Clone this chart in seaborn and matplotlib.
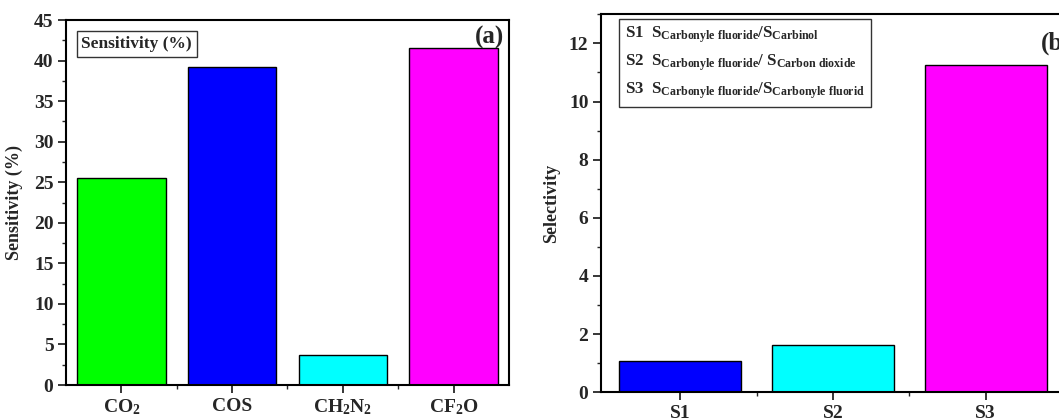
import matplotlib
matplotlib.use("Agg")
import matplotlib.pyplot as plt
import seaborn as sns
import pandas as pd
from matplotlib.ticker import MultipleLocator, FixedLocator

# panel (a) data
gases = ["CO$_2$", "COS", "CH$_2$N$_2$", "CF$_2$O"]
sensitivity = [25.5, 39.2, 3.7, 41.5]
gas_colors = ["#00FF00", "#0000FF", "#00FFFF", "#FF00FF"]

# panel (b) data
pairs = ["S1", "S2", "S3"]
selectivity = [1.07, 1.62, 11.26]
pair_colors = ["#0000FF", "#00FFFF", "#FF00FF"]

sns.set_style("ticks")
plt.rcParams["font.family"] = ["Liberation Serif", "DejaVu Serif"]
plt.rcParams["font.weight"] = "bold"
plt.rcParams["mathtext.fontset"] = "custom"
plt.rcParams["mathtext.rm"] = "Liberation Serif:bold"
plt.rcParams["mathtext.it"] = "Liberation Serif:bold"
plt.rcParams["mathtext.bf"] = "Liberation Serif:bold"

fig = plt.figure(figsize=(10.59, 4.19), dpi=100)
ax1 = fig.add_axes([0.0623, 0.0811, 0.4183, 0.8711])
ax2 = fig.add_axes([0.5675, 0.0637, 0.4353, 0.9022])

df_a = pd.DataFrame({"gas": gases, "sensitivity": sensitivity})
sns.barplot(data=df_a, x="gas", y="sensitivity", hue="gas", palette=gas_colors,
            saturation=1, edgecolor="black", linewidth=1.0, width=0.8,
            legend=False, ax=ax1)
ax1.set_xlim(-0.5, 3.5)
ax1.set_ylim(0, 45)
ax1.yaxis.set_major_locator(MultipleLocator(5))
ax1.yaxis.set_minor_locator(MultipleLocator(2.5))
ax1.xaxis.set_minor_locator(FixedLocator([0.5, 1.5, 2.5]))
ax1.set_xlabel("")
ax1.set_ylabel("Sensitivity (%)", fontsize=13, fontweight="bold", labelpad=8)
ax1.text(0.035, 0.935, "Sensitivity (%)", transform=ax1.transAxes, fontsize=12.5,
         fontweight="bold", va="center", ha="left",
         bbox=dict(boxstyle="square,pad=0.28", fc="white", ec="#333333", lw=1))
ax1.text(0.99, 0.985, "(a)", transform=ax1.transAxes, fontsize=18,
         fontweight="bold", va="top", ha="right")

df_b = pd.DataFrame({"pair": pairs, "selectivity": selectivity})
sns.barplot(data=df_b, x="pair", y="selectivity", hue="pair", palette=pair_colors,
            saturation=1, edgecolor="black", linewidth=1.0, width=0.8,
            legend=False, ax=ax2)
ax2.set_xlim(-0.52, 2.5)
ax2.set_ylim(0, 13)
ax2.yaxis.set_major_locator(MultipleLocator(2))
ax2.yaxis.set_minor_locator(MultipleLocator(1))
ax2.xaxis.set_minor_locator(FixedLocator([0.5, 1.5]))
ax2.set_xlabel("")
ax2.set_ylabel("Selectivity", fontsize=13, fontweight="bold", labelpad=6)
legend_text = ("S1  S$_{\\mathrm{Carbonyle\\ fluoride}}$/S$_{\\mathrm{Carbinol}}$\n"
               "S2  S$_{\\mathrm{Carbonyle\\ fluoride}}$/ S$_{\\mathrm{Carbon\\ dioxide}}$\n"
               "S3  S$_{\\mathrm{Carbonyle\\ fluoride}}$/S$_{\\mathrm{Carbonyle\\ fluorid}}$")
ax2.text(0.052, 0.972, legend_text, transform=ax2.transAxes, fontsize=12.2,
         fontweight="bold", va="top", ha="left", linespacing=1.55,
         bbox=dict(boxstyle="square,pad=0.35", fc="white", ec="#333333", lw=1))
ax2.text(0.955, 0.955, "(b)", transform=ax2.transAxes, fontsize=18,
         fontweight="bold", va="top", ha="left", clip_on=False)

for ax in (ax1, ax2):
    for s in ax.spines.values():
        s.set_linewidth(1.5)
        s.set_color("black")
    ax.tick_params(axis="both", which="major", direction="out", length=6,
                   width=1.3, labelsize=14, pad=3)
    ax.tick_params(axis="both", which="minor", direction="out", length=3,
                   width=1.0)
    for lab in ax.get_xticklabels() + ax.get_yticklabels():
        lab.set_fontweight("bold")

fig.savefig("out.png", dpi=100)
